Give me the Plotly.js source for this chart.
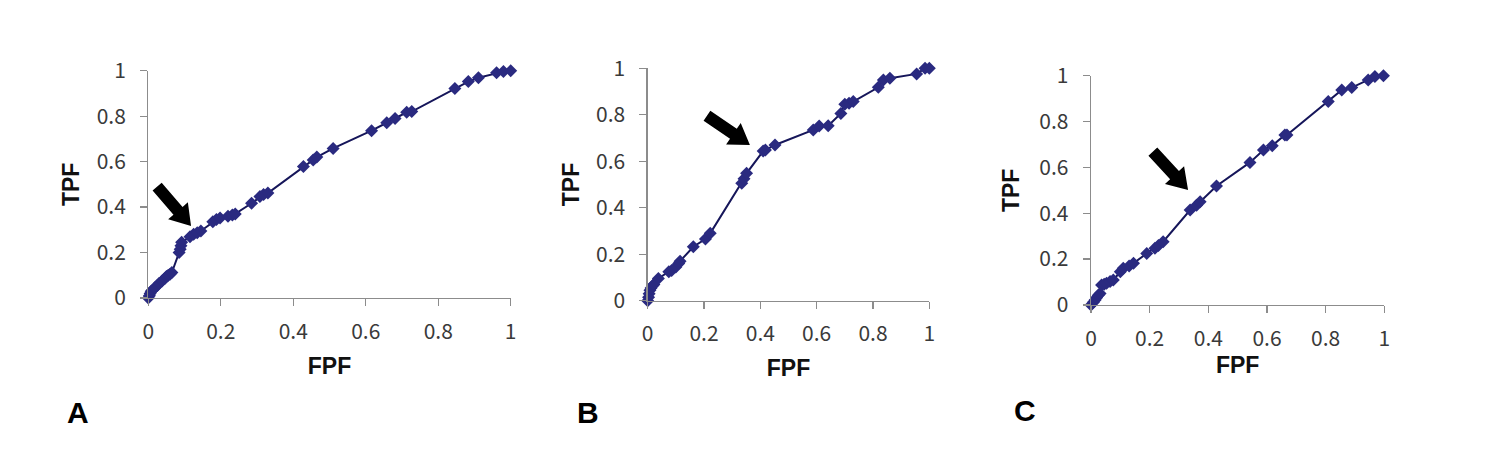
<!DOCTYPE html>
<html>
<head>
<meta charset="utf-8">
<script src="https://cdn.plot.ly/plotly-3.0.1.min.js"></script>
<style>html,body{margin:0;padding:0;background:#fff;}#chart{width:1486px;height:462px;}</style>
</head>
<body>
<div id="chart"></div>
<script>
// Panel A ROC points
const fpfA = [0,0.003,0.005,0.008,0.012,0.018,0.025,0.03,0.038,0.045,0.05,0.055,0.06,0.065,0.085,0.088,0.09,0.092,0.115,0.125,0.135,0.145,0.178,0.188,0.198,0.22,0.232,0.24,0.285,0.308,0.318,0.33,0.428,0.455,0.465,0.51,0.616,0.658,0.681,0.713,0.727,0.846,0.883,0.911,0.961,0.98,1.0];
const tpfA = [0,0.01,0.02,0.03,0.035,0.045,0.055,0.065,0.075,0.085,0.095,0.1,0.105,0.112,0.2,0.215,0.23,0.245,0.27,0.28,0.287,0.295,0.335,0.345,0.352,0.36,0.365,0.37,0.417,0.446,0.455,0.462,0.578,0.607,0.62,0.658,0.736,0.771,0.79,0.817,0.82,0.922,0.952,0.969,0.991,0.996,1.0];
// Panel B ROC points
const fpfB = [0,0.003,0.005,0.008,0.012,0.018,0.022,0.038,0.075,0.085,0.1,0.11,0.115,0.162,0.205,0.222,0.334,0.342,0.351,0.41,0.418,0.452,0.588,0.609,0.641,0.686,0.70,0.715,0.73,0.819,0.837,0.86,0.955,0.985,1.0];
const tpfB = [0,0.015,0.03,0.045,0.055,0.065,0.07,0.096,0.125,0.13,0.145,0.16,0.17,0.232,0.265,0.29,0.505,0.525,0.548,0.644,0.648,0.67,0.735,0.752,0.753,0.806,0.845,0.85,0.857,0.918,0.95,0.957,0.976,1.0,1.0];
// Panel C ROC points
const fpfC = [0,0.008,0.014,0.019,0.025,0.031,0.036,0.045,0.053,0.065,0.076,0.1,0.11,0.13,0.145,0.19,0.218,0.23,0.246,0.338,0.36,0.372,0.428,0.542,0.588,0.618,0.661,0.668,0.809,0.855,0.889,0.945,0.968,0.997];
const tpfC = [0,0.012,0.022,0.032,0.042,0.05,0.087,0.09,0.095,0.102,0.109,0.145,0.16,0.17,0.182,0.225,0.247,0.26,0.276,0.414,0.435,0.45,0.519,0.622,0.676,0.695,0.741,0.741,0.887,0.938,0.948,0.981,0.996,1.0];
// Arrow tips (data coords)
const arrowTipX = [0.118, 0.363, 0.331];
const arrowTipY = [0.317, 0.67, 0.502];
const tickVals = [0,0.2,0.4,0.6,0.8,1];
const tickText = ['0','0.2','0.4','0.6','0.8','1'];
const panelLabels = ['A','B','C'];

const lineColor = '#16165a';
const markerColor = '#2a2a80';
const axisColor = '#8c8c8c';
const tickFont = {family:'"Noto Sans CJK JP", "Noto Sans", sans-serif', size:21, color:'#3a3a3a'};
const titleFont = {family:'"Liberation Sans", Arial, sans-serif', size:23, color:'#111', weight:'bold'};

function trace(x, y, xa, ya){
  return {x:x, y:y, xaxis:xa, yaxis:ya, type:'scatter', mode:'lines+markers', cliponaxis:false,
    line:{color:lineColor, width:2},
    marker:{symbol:'diamond', size:10, color:markerColor, line:{width:0}},
    showlegend:false, hoverinfo:'x+y'};
}

function xax(domain, anchor, standoff){
  return {domain:domain, anchor:anchor, range:[0,1], showgrid:false, zeroline:false,
    showline:true, linecolor:axisColor, linewidth:1.3, ticks:'outside', ticklen:7, tickcolor:axisColor, tickwidth:1.3,
    tickvals:tickVals, ticktext:tickText, tickfont:tickFont, ticklabelstandoff:7,
    title:{text:'FPF', font:titleFont, standoff:standoff}, fixedrange:true};
}
function yax(domain, anchor, standoff){
  return {domain:domain, anchor:anchor, range:[0,1], showgrid:false, zeroline:false,
    showline:true, linecolor:axisColor, linewidth:1.3, ticks:'outside', ticklen:7, tickcolor:axisColor, tickwidth:1.3,
    tickvals:tickVals, ticktext:tickText, tickfont:tickFont, ticklabelstandoff:10,
    title:{text:'TPF', font:titleFont, standoff:standoff}, fixedrange:true};
}

function arrowPath(dx, dy){
  // pixel coords, y up; tip at origin
  const len = Math.hypot(dx, dy);
  const ux = dx/len, uy = dy/len;
  const nx = -uy, ny = ux;
  const L = 52, w = 6, h = 13, hl = 20;
  const pts = [
    [0,0],
    [-hl*ux + h*nx, -hl*uy + h*ny],
    [-hl*ux + w*nx, -hl*uy + w*ny],
    [-L*ux + w*nx, -L*uy + w*ny],
    [-L*ux - w*nx, -L*uy - w*ny],
    [-hl*ux - w*nx, -hl*uy - w*ny],
    [-hl*ux - h*nx, -hl*uy - h*ny]
  ];
  return 'M' + pts.map(p => p[0].toFixed(2)+','+p[1].toFixed(2)).join(' L') + ' Z';
}
const arrowDirs = [[31,-36],[44,-30],[35,-38]];
const axisIds = [['x','y'],['x2','y2'],['x3','y3']];
const shapes = arrowTipX.map((tx,i)=>({
  type:'path', xref:axisIds[i][0], yref:axisIds[i][1], xsizemode:'pixel', ysizemode:'pixel',
  xanchor:tx, yanchor:arrowTipY[i], path:arrowPath(arrowDirs[i][0], arrowDirs[i][1]),
  fillcolor:'#000', line:{width:0}, layer:'above'
}));

const W = 1486, H = 462;
const letterPos = [[78,412],[588,412],[1025,410]];
const annotations = panelLabels.map((t,i)=>({
  text:t, xref:'paper', yref:'paper', x:letterPos[i][0]/W, y:1-letterPos[i][1]/H,
  xanchor:'center', yanchor:'middle', showarrow:false,
  font:{family:'"Liberation Sans", Arial, sans-serif', size:30, color:'#000', weight:'bold'}
}));

const data = [trace(fpfA,tpfA,'x','y'), trace(fpfB,tpfB,'x2','y2'), trace(fpfC,tpfC,'x3','y3')];
const layout = {
  width:W, height:H, margin:{l:0,r:0,t:0,b:0}, paper_bgcolor:'#fff', plot_bgcolor:'#fff',
  xaxis: xax([148.3/W, 510.7/W], 'y', 14),
  yaxis: yax([1-298/H, 1-70.7/H], 'x', 10),
  xaxis2: xax([647.7/W, 929.3/W], 'y2', 13),
  yaxis2: yax([1-300.7/H, 1-68.3/H], 'x2', 10),
  xaxis3: xax([1091/W, 1384.3/W], 'y3', 6),
  yaxis3: yax([1-305/H, 1-75.7/H], 'x3', 13),
  shapes: shapes, annotations: annotations
};
Plotly.newPlot('chart', data, layout, {displayModeBar:false, staticPlot:true});
</script>
</body>
</html>
